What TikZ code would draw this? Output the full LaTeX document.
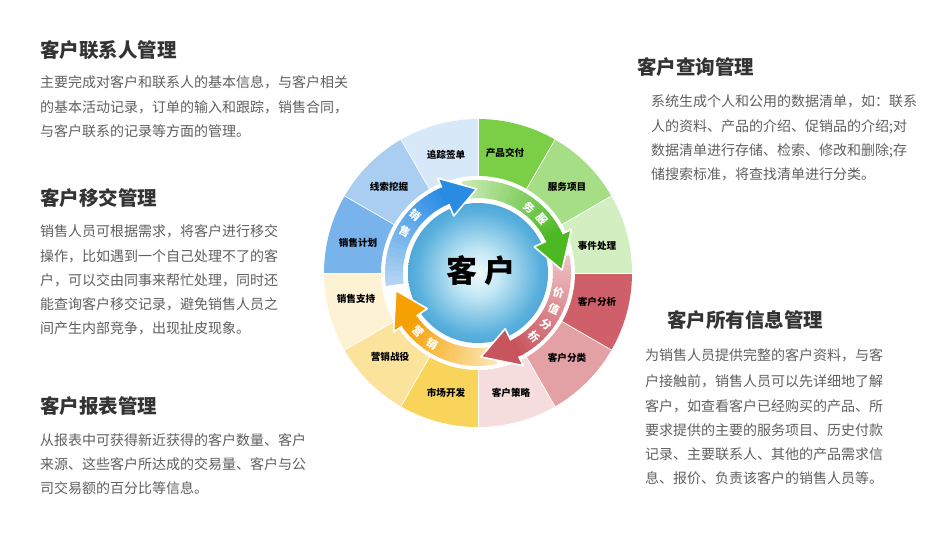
\documentclass[tikz,border=0pt]{standalone}
\usepackage{fontspec}
\setmainfont{Noto Sans CJK SC}
\definecolor{titlec}{HTML}{333333}
\definecolor{bodyc}{HTML}{606060}
\definecolor{gA}{HTML}{7ACF47}\definecolor{gB}{HTML}{A6DE85}\definecolor{gC}{HTML}{D3EFC2}
\definecolor{rA}{HTML}{CF5F68}\definecolor{rB}{HTML}{E3A0A5}\definecolor{rC}{HTML}{F5DCDD}
\definecolor{yA}{HTML}{F8D45A}\definecolor{yB}{HTML}{FBE39B}\definecolor{yC}{HTML}{FDF2D4}
\definecolor{bA}{HTML}{78B3EC}\definecolor{bB}{HTML}{A9CEF2}\definecolor{bC}{HTML}{D7E8F8}
\definecolor{blueT}{HTML}{B3D5F3}\definecolor{blueH}{HTML}{2A8BE3}
\definecolor{greenT}{HTML}{C8EAB2}\definecolor{greenH}{HTML}{4DB922}
\definecolor{redT}{HTML}{EFC0C3}\definecolor{redH}{HTML}{C8545D}
\definecolor{orT}{HTML}{FCE6B0}\definecolor{orH}{HTML}{F5A003}
\definecolor{ballA}{HTML}{F0FAFD}\definecolor{ballB}{HTML}{C4E8F5}
\definecolor{ballC}{HTML}{5AB0DD}\definecolor{ballD}{HTML}{2A86C8}\definecolor{ballE}{HTML}{1765AE}
\pgfdeclareradialshading{ballshade}{\pgfpoint{0bp}{0bp}}{color(0bp)=(ballA); color(8bp)=(ballB); color(22bp)=(ballC); color(38bp)=(ballD); color(50bp)=(ballE)}
\tikzset{
  ttl/.style={font=\fontsize{19.5}{22}\selectfont\bfseries, text=titlec, anchor=base west, inner sep=0pt},
  bdy/.style={font=\fontsize{14}{16}\selectfont, text=bodyc, anchor=base west, inner sep=0pt},
  seclab/.style={font=\fontsize{9.6}{11}\selectfont\bfseries, text=black, inner sep=0pt},
  arrlab/.style={font=\fontsize{11}{12}\selectfont\bfseries, text=white, inner sep=0pt},
}
% sector: start angle, end angle, colour
\newcommand{\wsector}[3]{\fill[#3] (0,0) -- (#1:154) arc[start angle=#1, end angle=#2, radius=154] -- cycle;}
% arrow body: tail angle, base angle, tail colour, head colour
\newcommand{\wbody}[4]{%
  \foreach \k in {0,...,23}{%
    \pgfmathsetmacro{\angA}{#1-(#1-(#2))*\k/24}%
    \pgfmathsetmacro{\angB}{#1-(#1-(#2))*(\k+1)/24-0.5}%
    \pgfmathtruncatemacro{\pmix}{\k*100/23}%
    \fill[#4!\pmix!#3] (\angA:93) arc[start angle=\angA, end angle=\angB, radius=93]
      -- (\angB:75) arc[start angle=\angB, end angle=\angA, radius=75] -- cycle;
  }}
% arrow head: base angle, tip angle, colour
\newcommand{\whead}[3]{%
  \fill[#3] (#1:103) -- (#2:84) -- (#1:62) -- cycle;
  \draw[white, line width=1.6pt, line join=round] (#1:93) -- (#1:103) -- (#2:84) -- (#1:62) -- (#1:75);}
\begin{document}
\begin{tikzpicture}[x=1pt, y=-1pt]
\fill[white] (0,0) rectangle (943,552);
\path[use as bounding box] (0,0) rectangle (943,552);

% left column
\node[ttl] (t1) at (40,57.4) {客户联系人管理};
\node[bdy] (t1a) at (40,87.3) {主要完成对客户和联系人的基本信息，与客户相关};
\node[bdy] (t1b) at (40,112.3) {的基本活动记录，订单的输入和跟踪，销售合同，};
\node[bdy] (t1c) at (40,136.3) {与客户联系的记录等方面的管理。};

\node[ttl] (t2) at (40,205.4) {客户移交管理};
\node[bdy] (t2a) at (40,236.3) {销售人员可根据需求，将客户进行移交};
\node[bdy] (t2b) at (40,261.3) {操作，比如遇到一个自己处理不了的客};
\node[bdy] (t2c) at (40,285.3) {户，可以交由同事来帮忙处理，同时还};
\node[bdy] (t2d) at (40,309.3) {能查询客户移交记录，避免销售人员之};
\node[bdy] (t2e) at (40,333.3) {间产生内部竞争，出现扯皮现象。};

\node[ttl] (t3) at (40,413.4) {客户报表管理};
\node[bdy] (t3a) at (40,445.3) {从报表中可获得新近获得的客户数量、客户};
\node[bdy] (t3b) at (40,469.3) {来源、这些客户所达成的交易量、客户与公};
\node[bdy] (t3c) at (40,493.3) {司交易额的百分比等信息。};

% right column
\node[ttl] (t4) at (637,74.4) {客户查询管理};
\node[bdy] (t4a) at (651,106.3) {系统生成个人和公用的数据清单，如：联系};
\node[bdy] (t4b) at (651,131.3) {人的资料、产品的介绍、促销品的介绍;对};
\node[bdy] (t4c) at (651,155.3) {数据清单进行存储、检索、修改和删除;存};
\node[bdy] (t4d) at (651,179.3) {储搜索标准，将查找清单进行分类。};

\node[ttl] (t5) at (667,327.4) {客户所有信息管理};
\node[bdy] (t5a) at (645,360.3) {为销售人员提供完整的客户资料，与客};
\node[bdy] (t5b) at (645,386.3) {户接触前，销售人员可以先详细地了解};
\node[bdy] (t5c) at (645,411.3) {客户，如查看客户已经购买的产品、所};
\node[bdy] (t5d) at (645,435.3) {要求提供的主要的服务项目、历史付款};
\node[bdy] (t5e) at (645,459.3) {记录、主要联系人、其他的产品需求信};
\node[bdy] (t5f) at (645,483.3) {息、报价、负责该客户的销售人员等。};

% wheel
\begin{scope}[shift={(478,273)}, y=1pt]
  \wsector{60}{90}{gA}\wsector{30}{60}{gB}\wsector{0}{30}{gC}
  \wsector{-30}{0}{rA}\wsector{-60}{-30}{rB}\wsector{-90}{-60}{rC}
  \wsector{-120}{-90}{yA}\wsector{-150}{-120}{yB}\wsector{-180}{-150}{yC}
  \wsector{150}{180}{bA}\wsector{120}{150}{bB}\wsector{90}{120}{bC}
  \foreach \a in {0,30,...,330}{\draw[white, line width=0.7pt] (\a:96) -- (\a:155);}
  \fill[white] (0,0) circle (97);

  \shade[shading=ballshade] (0,0) circle (70);

  \wbody{188}{113}{blueT}{blueH}
  \wbody{100}{25}{greenT}{greenH}
  \wbody{11}{-64}{redT}{redH}
  \wbody{-78}{-145}{orT}{orH}
  \whead{113}{91}{blueH}
  \whead{25}{2}{greenH}
  \whead{-64}{-88}{redH}
  \whead{-145}{-168}{orH}

  \node[font=\fontsize{31}{33}\selectfont\bfseries, text=black] (center) at (3,2) {客\hspace{7pt}户};

  \node[seclab] (s1) at (-32,118) {追踪签单};
  \node[seclab] (s2) at (27,120) {产品交付};
  \node[seclab] (s3) at (89,86) {服务项目};
  \node[seclab] (s4) at (119,27) {事件处理};
  \node[seclab] (s5) at (119,-29) {客户分析};
  \node[seclab] (s6) at (89,-85) {客户分类};
  \node[seclab] (s7) at (33,-120) {客户策略};
  \node[seclab] (s8) at (-32,-120) {市场开发};
  \node[seclab] (s9) at (-88,-84) {营销战役};
  \node[seclab] (s10) at (-122,-26) {销售支持};
  \node[seclab] (s11) at (-120,30) {销售计划};
  \node[seclab] (s12) at (-89,86) {线索挖掘};

  \node[arrlab, rotate=-43] (x1) at (137.4:85) {销};
  \node[arrlab, rotate=-29] (x2) at (150.7:84) {售};
  \node[arrlab, rotate=-38] (x3) at (52:83) {务};
  \node[arrlab, rotate=-50] (x4) at (40:83) {服};
  \node[arrlab, rotate=-14] (x5) at (-14:83) {价};
  \node[arrlab, rotate=-25] (x6) at (-25.5:84) {值};
  \node[arrlab, rotate=-37] (x7) at (-37:85) {分};
  \node[arrlab, rotate=-48] (x8) at (-48.5:85) {析};
  \node[arrlab, rotate=-45] (x9) at (-135.5:84) {营};
  \node[arrlab, rotate=-33] (x10) at (-122.7:84) {销};
\end{scope}
\end{tikzpicture}
\end{document}
